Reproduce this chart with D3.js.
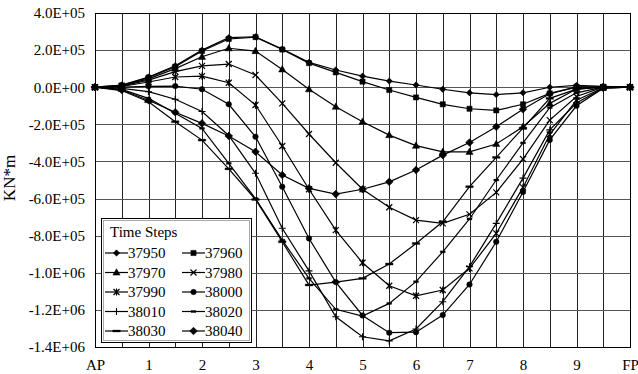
<!DOCTYPE html>
<html>
<head>
<meta charset="utf-8">
<script src="https://cdn.jsdelivr.net/npm/d3@7"></script>
<style>
  body { margin: 0; background: #fff; }
</style>
</head>
<body>
<svg id="chart" width="638" height="374"></svg>
<script>
// stations along the hull, AP = 0 ... FP = 10
const stations = [0, 0.5, 1, 1.5, 2, 2.5, 3, 3.5, 4, 4.5, 5, 5.5, 6, 6.5, 7, 7.5, 8, 8.5, 9, 9.5, 10];
const tickStations = [0, 1, 2, 3, 4, 5, 6, 7, 8, 9, 10];
const tickLabels = ["AP", "1", "2", "3", "4", "5", "6", "7", "8", "9", "FP"];
const yTicks = [4e5, 2e5, 0, -2e5, -4e5, -6e5, -8e5, -1e6, -1.2e6, -1.4e6];

// bending moment for each time step, in units of 1E+05 KN*m
const s37950 = [0, 0.12, 0.55, 1.16, 2.0, 2.67, 2.72, 2.06, 1.34, 0.93, 0.6, 0.33, 0.12, -0.11, -0.3, -0.4, -0.3, 0, 0.1, 0.05, 0];
const s37960 = [0, 0.1, 0.52, 1.1, 1.95, 2.6, 2.7, 2.03, 1.3, 0.8, 0.3, -0.15, -0.55, -0.92, -1.16, -1.25, -0.92, -0.33, 0.02, 0.02, 0];
const s37970 = [0, 0.08, 0.45, 1.0, 1.64, 2.1, 1.95, 0.96, -0.11, -1.05, -1.86, -2.58, -3.15, -3.48, -3.48, -3.06, -2.13, -0.87, -0.1, 0, 0];
const s37980 = [0, 0.06, 0.38, 0.84, 1.15, 1.25, 0.66, -0.87, -2.52, -4.07, -5.5, -6.47, -7.16, -7.34, -6.85, -5.67, -3.87, -1.77, -0.5, 0, 0];
const s37990 = [0, 0.04, 0.28, 0.55, 0.6, 0.24, -0.96, -3.17, -5.5, -7.7, -9.46, -10.7, -11.24, -10.93, -9.76, -7.88, -5.4, -2.55, -0.7, -0.03, 0];
const s38000 = [0, 0.01, 0.05, 0.06, -0.11, -0.92, -2.67, -5.36, -8.15, -10.5, -12.3, -13.23, -13.2, -12.28, -10.63, -8.33, -5.65, -2.84, -1.0, -0.05, 0];
const s38010 = [0, -0.06, -0.24, -0.65, -1.31, -2.6, -4.64, -7.6, -9.9, -12.37, -13.45, -13.67, -13.03, -11.56, -9.67, -7.34, -4.9, -2.3, -0.85, -0.05, 0];
const s38020 = [0, -0.12, -0.6, -1.4, -2.22, -4.1, -6.0, -8.24, -10.3, -11.97, -12.33, -11.65, -10.48, -8.87, -7.1, -5.0, -3.0, -1.1, -0.3, 0, 0];
const s38030 = [0, -0.18, -0.78, -1.86, -2.85, -4.4, -6.05, -8.33, -10.66, -10.5, -10.3, -9.53, -8.42, -7.25, -5.36, -3.78, -2.2, -0.6, -0.1, 0, 0];
const s38040 = [0, -0.15, -0.7, -1.35, -1.95, -2.63, -3.48, -4.73, -5.45, -5.76, -5.5, -5.1, -4.46, -3.66, -2.98, -2.13, -1.19, -0.35, 0, 0, 0];

const series = [
  { name: "37950", values: s37950, marker: "diamond" },
  { name: "37960", values: s37960, marker: "square" },
  { name: "37970", values: s37970, marker: "triangle" },
  { name: "37980", values: s37980, marker: "x" },
  { name: "37990", values: s37990, marker: "asterisk" },
  { name: "38000", values: s38000, marker: "circle" },
  { name: "38010", values: s38010, marker: "plus" },
  { name: "38020", values: s38020, marker: "dash" },
  { name: "38030", values: s38030, marker: "longdash" },
  { name: "38040", values: s38040, marker: "bigdiamond" }
];

const unit = 1e5;
const margin = { top: 13, right: 8, bottom: 27, left: 95 };
const W = 638, H = 374;
const serif = '"Liberation Serif"';

const svg = d3.select("#chart");

const x = d3.scaleLinear().domain([0, 10]).range([margin.left, W - margin.right]);
const y = d3.scaleLinear().domain([-1.4e6, 4e5]).range([H - margin.bottom, margin.top]);

const fmt = d => {
  if (d === 0) return "0.0E+00";
  const e = Math.floor(Math.log10(Math.abs(d)) + 1e-9);
  const m = d / Math.pow(10, e);
  return m.toFixed(1) + "E+" + String(e).padStart(2, "0");
};

// grid
const grid = svg.append("g").attr("shape-rendering", "crispEdges");
grid.selectAll(".vg").data(stations).enter().append("line")
  .attr("x1", d => Math.round(x(d)) + 0.5).attr("x2", d => Math.round(x(d)) + 0.5)
  .attr("y1", y(4e5)).attr("y2", y(-1.4e6))
  .attr("stroke", "#222").attr("stroke-width", 1);
grid.selectAll(".hg").data(yTicks).enter().append("line")
  .attr("x1", x(0)).attr("x2", x(10))
  .attr("y1", d => Math.round(y(d)) + 0.5).attr("y2", d => Math.round(y(d)) + 0.5)
  .attr("stroke", "#555").attr("stroke-width", 1);

// frame
svg.append("rect")
  .attr("x", Math.round(x(0)) + 0.5).attr("y", Math.round(y(4e5)) + 0.5)
  .attr("width", Math.round(x(10)) - Math.round(x(0)))
  .attr("height", Math.round(y(-1.4e6)) - Math.round(y(4e5)))
  .attr("fill", "none").attr("stroke", "#000").attr("stroke-width", 1.3)
  .attr("shape-rendering", "crispEdges");

// axes
const yAxis = svg.append("g")
  .attr("transform", `translate(${margin.left},0)`)
  .call(d3.axisLeft(y).tickValues(yTicks).tickFormat(fmt).tickSize(0).tickPadding(10));
yAxis.select(".domain").remove();
yAxis.selectAll("text").attr("font-size", 15);

const xAxis = svg.append("g")
  .attr("transform", `translate(0,${H - margin.bottom})`)
  .call(d3.axisBottom(x).tickValues(tickStations).tickFormat((d, i) => tickLabels[i]).tickSize(0).tickPadding(12));
xAxis.select(".domain").remove();
xAxis.selectAll("text").attr("font-size", 15);

svg.append("text")
  .attr("transform", `translate(15,${(margin.top + H - margin.bottom) / 2 - 2}) rotate(-90)`)
  .attr("text-anchor", "middle")
  .attr("font-size", 17)
  .text("KN*m");

// markers
function marker(sel, type) {
  const p = sel.append("path").attr("fill", "#000").attr("stroke", "#000");
  switch (type) {
    case "diamond": p.attr("d", "M0,-3.2L3.2,0L0,3.2L-3.2,0Z").attr("stroke-width", 0.5); break;
    case "bigdiamond": p.attr("d", "M0,-3.8L3.8,0L0,3.8L-3.8,0Z").attr("stroke-width", 0.6); break;
    case "square": p.attr("d", "M-2.6,-2.6H2.6V2.6H-2.6Z").attr("stroke-width", 0.5); break;
    case "triangle": p.attr("d", "M0,-3.8L3.6,2.6L-3.6,2.6Z").attr("stroke-width", 0.5); break;
    case "circle": p.attr("d", d3.symbol().type(d3.symbolCircle).size(24)()).attr("stroke-width", 0.5); break;
    case "x": p.attr("d", "M-3,-3L3,3M-3,3L3,-3").attr("fill", "none").attr("stroke-width", 1.2); break;
    case "asterisk": p.attr("d", "M-3,-3L3,3M-3,3L3,-3M0,-3.6L0,3.6").attr("fill", "none").attr("stroke-width", 1.2); break;
    case "plus": p.attr("d", "M-3.5,0H3.5M0,-3.5V3.5").attr("fill", "none").attr("stroke-width", 1.1); break;
    case "dash": p.attr("d", "M-2.5,-1H2.5V1H-2.5Z").attr("stroke-width", 0.3); break;
    case "longdash": p.attr("d", "M-3.8,-1H3.8V1H-3.8Z").attr("stroke-width", 0.3); break;
  }
}

const line = d3.line()
  .x((d, i) => x(stations[i]))
  .y(d => y(d * unit));

const plot = svg.append("g");
series.forEach(s => {
  plot.append("path")
    .datum(s.values)
    .attr("fill", "none")
    .attr("stroke", "#000")
    .attr("stroke-width", 1.2)
    .attr("d", line);
  plot.selectAll(null).data(s.values).enter().append("g")
    .attr("transform", (d, i) => `translate(${x(stations[i])},${y(d * unit)})`)
    .each(function () { marker(d3.select(this), s.marker); });
});

// legend
const lg = svg.append("g").attr("transform", "translate(101,218)");
lg.append("rect")
  .attr("x", 0.5).attr("y", 0.5).attr("width", 150).attr("height", 124)
  .attr("fill", "#fff").attr("stroke", "#000").attr("stroke-width", 1.2)
  .attr("shape-rendering", "crispEdges");
lg.append("rect")
  .attr("x", 2.5).attr("y", 2.5).attr("width", 146).attr("height", 120)
  .attr("fill", "none").attr("stroke", "#aaa").attr("stroke-width", 1)
  .attr("shape-rendering", "crispEdges");
lg.append("text").attr("x", 9).attr("y", 19).attr("font-size", 15).text("Time Steps");

series.forEach((s, i) => {
  const col = i % 2, row = Math.floor(i / 2);
  const g = lg.append("g").attr("transform", `translate(${4 + col * 77},${35 + row * 19.5})`);
  g.append("line").attr("x1", 0).attr("x2", 23).attr("y1", 0).attr("y2", 0)
    .attr("stroke", "#000").attr("stroke-width", 1.2);
  marker(g.append("g").attr("transform", "translate(11.5,0)"), s.marker);
  g.append("text").attr("x", 23).attr("y", 5).attr("font-size", 15).text(s.name);
});

svg.selectAll("text").style("font-family", serif).attr("fill", "#000");
</script>
</body>
</html>
